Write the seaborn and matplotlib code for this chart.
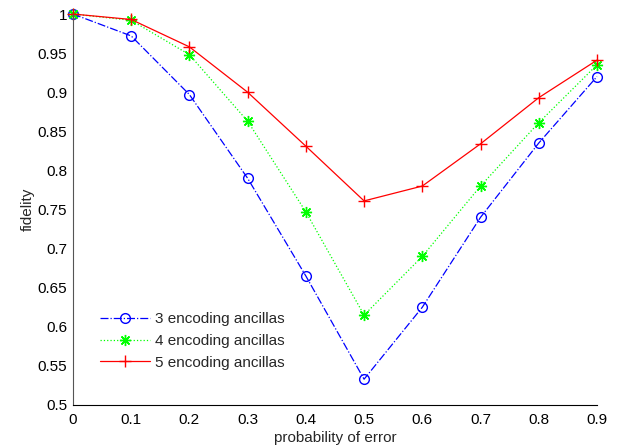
import numpy as np
import pandas as pd
import seaborn as sns
import matplotlib
matplotlib.use("Agg")
import matplotlib.pyplot as plt

p_error = [0.0, 0.1, 0.2, 0.3, 0.4, 0.5, 0.6, 0.7, 0.8, 0.9]
fid_3 = [1.0, 0.972, 0.897, 0.790, 0.665, 0.533, 0.625, 0.740, 0.835, 0.920]
fid_4 = [1.0, 0.992, 0.948, 0.863, 0.747, 0.615, 0.690, 0.780, 0.861, 0.935]
fid_5 = [1.0, 0.993, 0.958, 0.900, 0.831, 0.761, 0.780, 0.834, 0.893, 0.941]

series_names = ["3 encoding ancillas", "4 encoding ancillas", "5 encoding ancillas"]
xticks = [0, 0.1, 0.2, 0.3, 0.4, 0.5, 0.6, 0.7, 0.8, 0.9]
yticks = [0.5, 0.55, 0.6, 0.65, 0.7, 0.75, 0.8, 0.85, 0.9, 0.95, 1.0]

sns.set_theme(style="white")
plt.rcParams["font.family"] = ["Liberation Sans", "DejaVu Sans"]
plt.rcParams["xtick.direction"] = "in"
plt.rcParams["ytick.direction"] = "in"

fig = plt.figure(figsize=(6.18, 4.45), dpi=100)
ax = fig.add_axes([0.118, 0.0899, 0.848, 0.8786])

# MATLAB-like markers: open circle, asterisk, plus
styles = [
    dict(color="#0000ff", linestyle="-.", marker="o", markerfacecolor="none",
         markeredgecolor="#0000ff", markersize=7),
    dict(color="#00ff00", linestyle=":", marker=(8, 2, 0),
         markeredgecolor="#00ff00", markersize=8),
    dict(color="#ff0000", linestyle="-", marker="+", markeredgecolor="#ff0000",
         markersize=9),
]

for name, vals, st in zip(series_names, [fid_3, fid_4, fid_5], styles):
    df = pd.DataFrame({"p": p_error, "f": vals})
    sns.lineplot(data=df, x="p", y="f", ax=ax, label=name, linewidth=0.9,
                 markeredgewidth=1.0, clip_on=False, **st)

ax.set_xlim(0, 0.9)
ax.set_ylim(0.5, 1.0)
ax.set_xticks(xticks)
ax.set_xticklabels([f"{t:g}" for t in xticks])
ax.set_yticks(yticks)
ax.set_yticklabels([f"{t:g}" for t in yticks])
ax.tick_params(axis="both", labelsize=11, length=4, width=0.6,
               colors="black", pad=4)
ax.tick_params(axis="x", pad=6)
ax.spines["top"].set_visible(False)
ax.spines["right"].set_visible(False)
ax.spines["bottom"].set_color("black")
ax.spines["left"].set_color("#555555")
for s in ax.spines.values():
    s.set_linewidth(0.8)

ax.set_xlabel("probability of error", fontsize=11, labelpad=3)
ax.set_ylabel("fidelity", fontsize=11, labelpad=2)

ax.legend(loc="lower left", bbox_to_anchor=(0.025, 0.055), frameon=False,
          fontsize=11, handlelength=3.3, handletextpad=0.3, labelspacing=0.5)

fig.savefig("out.png", dpi=100)
